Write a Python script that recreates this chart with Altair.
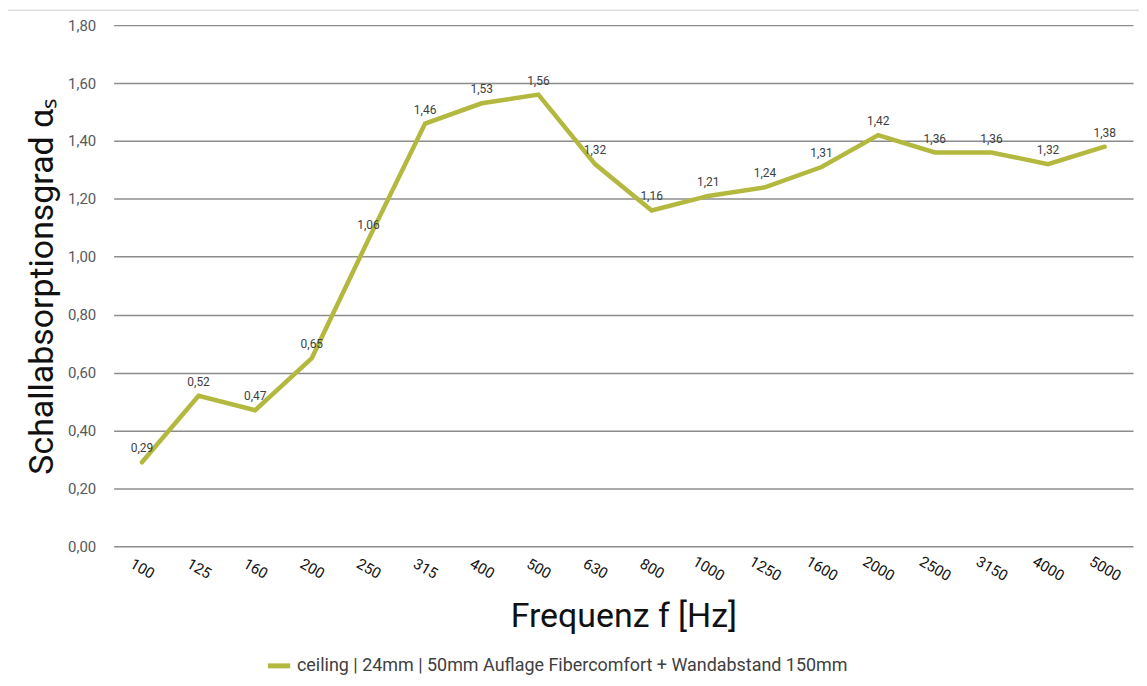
import altair as alt
import pandas as pd

freqs = ["100", "125", "160", "200", "250", "315", "400", "500", "630", "800",
         "1000", "1250", "1600", "2000", "2500", "3150", "4000", "5000"]
values = [0.29, 0.52, 0.47, 0.65, 1.06, 1.46, 1.53, 1.56, 1.32, 1.16,
          1.21, 1.24, 1.31, 1.42, 1.36, 1.36, 1.32, 1.38]
series_name = "ceiling | 24mm | 50mm Auflage Fibercomfort + Wandabstand 150mm"
y_ticks = [0.0, 0.2, 0.4, 0.6, 0.8, 1.0, 1.2, 1.4, 1.6, 1.8]

df = pd.DataFrame({"f": freqs, "a": values, "s": [series_name] * len(freqs)})
df["lab"] = [f"{v:.2f}".replace(".", ",") for v in values]

FONT = "Roboto"
COLOR = "#B3B83E"

x = alt.X("f:N", sort=freqs,
          scale=alt.Scale(type="point", padding=0.5),
          axis=alt.Axis(title="Frequenz f [Hz]", labelAngle=30, labelAlign="center",
                        labelBaseline="middle", labelColor="#111111", labelFontSize=15,
                        labelFont=FONT, labelPadding=22, ticks=False, domain=False,
                        grid=False, titleFont=FONT, titleFontSize=34,
                        titleFontWeight="normal", titleColor="#111111",
                        titlePadding=16))
y = alt.Y("a:Q",
          scale=alt.Scale(domain=[0, 1.8], nice=False),
          axis=alt.Axis(title="Schallabsorptionsgrad αₛ", values=y_ticks,
                        labelExpr="replace(format(datum.value, '.2f'), '.', ',')",
                        labelColor="#595959", labelFontSize=15, labelFont=FONT,
                        labelPadding=18, ticks=False, domain=False,
                        grid=True, gridColor="#8c8c8c", gridWidth=1.5,
                        titleFont=FONT, titleFontSize=34, titleFontWeight="normal",
                        titleColor="#111111", titlePadding=8))

border = alt.Chart(pd.DataFrame({"k": [0]})).mark_rect(
    fill=None, stroke="#dddddd", strokeWidth=1.5
).encode(x=alt.value(-107), x2=alt.value(1040), y=alt.value(-15), y2=alt.value(700))

line = alt.Chart(df).mark_line(strokeWidth=4.5, strokeCap="round", strokeJoin="miter").encode(
    x=x, y=y,
    color=alt.Color("s:N", scale=alt.Scale(range=[COLOR]),
                    legend=alt.Legend(title=None, orient="none", legendX=152, legendY=629,
                                      symbolType="stroke", symbolStrokeWidth=5,
                                      symbolSize=500, labelFont=FONT, labelFontSize=18,
                                      labelColor="#404040", labelLimit=900))
)

labels = alt.Chart(df).mark_text(dy=-14, fontSize=12, font=FONT, color="#404040").encode(
    x=alt.X("f:N", sort=freqs), y="a:Q", text="lab:N"
)

chart = (border + line + labels).properties(
    width=1023, height=523,
    background="white",
    autosize=alt.AutoSizeParams(type="none"),
    padding={"left": 106, "top": 16, "right": 6, "bottom": 131},
).configure_view(stroke=None)

chart.save("out.html", embed_options={"renderer": "svg", "actions": False})
